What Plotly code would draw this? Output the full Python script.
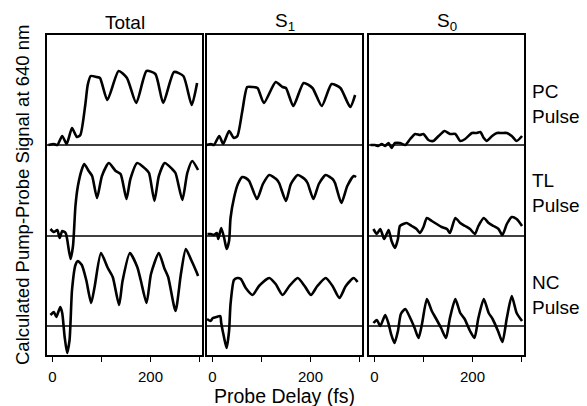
import plotly.graph_objects as go

# ---- data (probe delay in fs, signal in arbitrary units) ----
columns = ["Total", "S<sub>1</sub>", "S<sub>0</sub>"]
pulses = ["PC<br>Pulse", "TL<br>Pulse", "NC<br>Pulse"]

total_pc_t = [-8, 3, 10, 20, 29, 40, 50, 57, 67, 72, 78, 90, 97, 112, 135, 152, 171, 192, 210, 226, 248, 267, 284, 295]
total_pc_v = [0, 1, 0, 9, 1, 17, 8, 10, 40, 60, 69, 68, 67, 45, 74, 67, 42, 74, 71, 42, 73, 69, 40, 62]

total_tl_t = [-4, 3, 10, 15, 20, 27, 30, 37, 42, 47, 52, 61, 65, 74, 81, 91, 101, 115, 129, 139, 151, 159, 173, 190, 197, 208, 217, 229, 244, 251, 265, 275, 285, 297]
total_tl_v = [7, 4, 6, -2, 5, 3, -3, -23, -10, 30, 50, 68, 72, 65, 60, 38, 60, 73, 65, 62, 37, 57, 73, 67, 63, 35, 60, 73, 67, 63, 36, 63, 75, 66]

total_nc_t = [-4, 3, 8, 16, 20, 25, 30, 35, 40, 47, 52, 60, 69, 79, 86, 99, 113, 123, 136, 143, 158, 173, 180, 192, 201, 217, 228, 236, 251, 262, 272, 283, 293, 297]
total_nc_v = [11, 14, 9, 19, 13, -11, -27, -14, 36, 61, 65, 61, 46, 23, 39, 73, 58, 49, 21, 45, 73, 59, 46, 23, 52, 73, 58, 49, 15, 52, 77, 66, 55, 50]

s1_pc_t = [-12, -3, 3, 14, 22, 34, 44, 51, 61, 71, 82, 92, 105, 129, 143, 150, 165, 186, 204, 223, 243, 261, 281, 291]
s1_pc_v = [0, 1, 0, 9, 1, 14, 7, 9, 34, 58, 58, 57, 42, 63, 58, 57, 39, 62, 57, 39, 61, 57, 38, 50]

s1_tl_t = [-10, -3, 3, 9, 12, 18, 24, 29, 34, 37, 44, 52, 61, 68, 75, 91, 103, 116, 130, 136, 150, 160, 174, 188, 194, 206, 217, 231, 245, 250, 263, 275, 288, 293]
s1_tl_v = [2, 2, 1, 3, -3, 8, -2, -13, -5, 18, 38, 52, 59, 58, 55, 37, 52, 61, 57, 53, 35, 52, 61, 57, 53, 37, 52, 61, 57, 53, 33, 50, 60, 59]

s1_nc_t = [-11, -4, 1, 8, 16, 18, 24, 29, 34, 37, 44, 51, 58, 68, 82, 95, 116, 129, 143, 157, 174, 188, 201, 214, 231, 245, 259, 272, 288, 296]
s1_nc_v = [7, 5, 8, 9, 10, 3, -12, -22, -5, 22, 46, 48, 47, 38, 31, 40, 48, 42, 31, 40, 48, 40, 31, 40, 48, 40, 28, 40, 48, 44]

s0_pc_t = [-8, 1, 8, 15, 22, 29, 35, 42, 52, 63, 73, 83, 93, 100, 110, 120, 131, 143, 154, 165, 175, 185, 199, 209, 216, 223, 229, 240, 250, 260, 270, 280, 290, 301]
s0_pc_v = [0, 0, -1, 1, -1, 2, -3, 2, 2, 0, 6, 11, 10, 11, 5, 4, 9, 14, 11, 11, 4, 6, 12, 12, 13, 7, 4, 9, 12, 12, 12, 9, 4, 9]

s0_tl_t = [-2, 5, 12, 20, 29, 35, 42, 48, 52, 59, 66, 76, 86, 93, 100, 107, 117, 127, 137, 148, 154, 165, 175, 185, 195, 205, 212, 223, 233, 243, 253, 261, 270, 280, 290, 301]
s0_tl_v = [7, 2, 7, -3, 6, -5, -12, -3, 10, 12, 13, 10, 7, 3, 9, 18, 15, 12, 9, 7, 3, 18, 13, 10, 7, 2, 10, 18, 13, 10, 7, 1, 12, 19, 17, 10]

s0_nc_t = [-2, 5, 12, 22, 29, 34, 41, 48, 54, 63, 73, 82, 90, 97, 107, 117, 125, 136, 146, 154, 165, 175, 184, 195, 204, 212, 223, 233, 241, 252, 261, 270, 280, 290, 301]
s0_nc_v = [3, 6, 0, 11, 2, -8, -17, -5, 12, 17, 8, -2, -12, 2, 27, 15, 8, -2, -12, 8, 27, 13, 7, -5, -12, 8, 27, 13, 7, -5, -16, 8, 30, 13, 5]

curves = [
    [(total_pc_t, total_pc_v), (total_tl_t, total_tl_v), (total_nc_t, total_nc_v)],
    [(s1_pc_t, s1_pc_v), (s1_tl_t, s1_tl_v), (s1_nc_t, s1_nc_v)],
    [(s0_pc_t, s0_pc_v), (s0_tl_t, s0_tl_v), (s0_nc_t, s0_nc_v)],
]

x_major_ticks = [0, 200]
x_minor_ticks = [100, 300]

# vertical stacking offsets (layout)
offsets = [181, 90, 0]
label_pos = [222, 133, 31]

FONT = "Liberation Sans, Arial, Helvetica, sans-serif"

fig = go.Figure()
W, H = 579, 398
ml, mr, mt, mb = 39, 63, 27, 51
pw = W - ml - mr
colw = 155 / pw
gap = 5 / pw
domains = [[0, colw], [colw + gap, 2 * colw + gap], [1 - colw, 1]]

for ci in range(3):
    xa = "x" if ci == 0 else f"x{ci+1}"
    ya = "y" if ci == 0 else f"y{ci+1}"
    for ri in range(3):
        t, v = curves[ci][ri]
        fig.add_trace(go.Scatter(
            x=t, y=[val + offsets[ri] for val in v], xaxis=xa, yaxis=ya,
            mode="lines", line=dict(color="black", width=2.6, shape="spline", smoothing=0.6),
            showlegend=False, hoverinfo="skip"))
        fig.add_shape(type="line", xref=f"{xa} domain", yref=ya, x0=0, x1=1,
                      y0=offsets[ri], y1=offsets[ri], line=dict(color="black", width=1.3))
    axis_x = dict(domain=domains[ci], range=[-11, 305], tickmode="array", tickvals=x_major_ticks,
                  ticks="outside", ticklen=5, tickwidth=1.3, tickcolor="black",
                  ticklabelstandoff=2,
                  minor=dict(tickmode="array", tickvals=x_minor_ticks, ticks="outside",
                             ticklen=5, tickwidth=1.3, tickcolor="black", showgrid=False),
                  showline=True, linecolor="black", linewidth=1.6, mirror=True,
                  showgrid=False, zeroline=False,
                  tickfont=dict(family=FONT, size=15, color="black"))
    axis_y = dict(domain=[0, 1], range=[-29, 291], showticklabels=False, ticks="",
                  showline=True, linecolor="black", linewidth=1.6, mirror=True,
                  showgrid=False, zeroline=False)
    if ci > 0:
        axis_y["anchor"] = xa
        axis_x["anchor"] = ya
    fig.update_layout(**{("xaxis" if ci == 0 else f"xaxis{ci+1}"): axis_x,
                         ("yaxis" if ci == 0 else f"yaxis{ci+1}"): axis_y})
    fig.add_annotation(text=columns[ci], xref=f"{xa} domain", yref="paper",
                       x=0.5, y=1.0, yshift=13, xanchor="center", yanchor="middle",
                       showarrow=False, font=dict(family=FONT, size=19, color="black"))

for ri in range(3):
    fig.add_annotation(text=pulses[ri], xref="paper", yref="y", x=1.0, xshift=6,
                       y=label_pos[ri], xanchor="left", yanchor="middle", align="left",
                       showarrow=False, font=dict(family=FONT, size=19, color="black"))

fig.add_annotation(text="Calculated Pump-Probe Signal at 640 nm", xref="paper", yref="paper",
                   x=0, xshift=-25, y=0.5, textangle=-90, xanchor="center", yanchor="middle",
                   showarrow=False, font=dict(family=FONT, size=18.5, color="black"))
fig.add_annotation(text="Probe Delay (fs)", xref="paper", yref="paper",
                   x=0.498, y=0, yshift=-41, xanchor="center", yanchor="middle",
                   showarrow=False, font=dict(family=FONT, size=19.5, color="black"))

fig.update_layout(width=W, height=H, margin=dict(l=ml, r=mr, t=mt, b=mb),
                  paper_bgcolor="white", plot_bgcolor="white")

fig.write_html("out.html")
